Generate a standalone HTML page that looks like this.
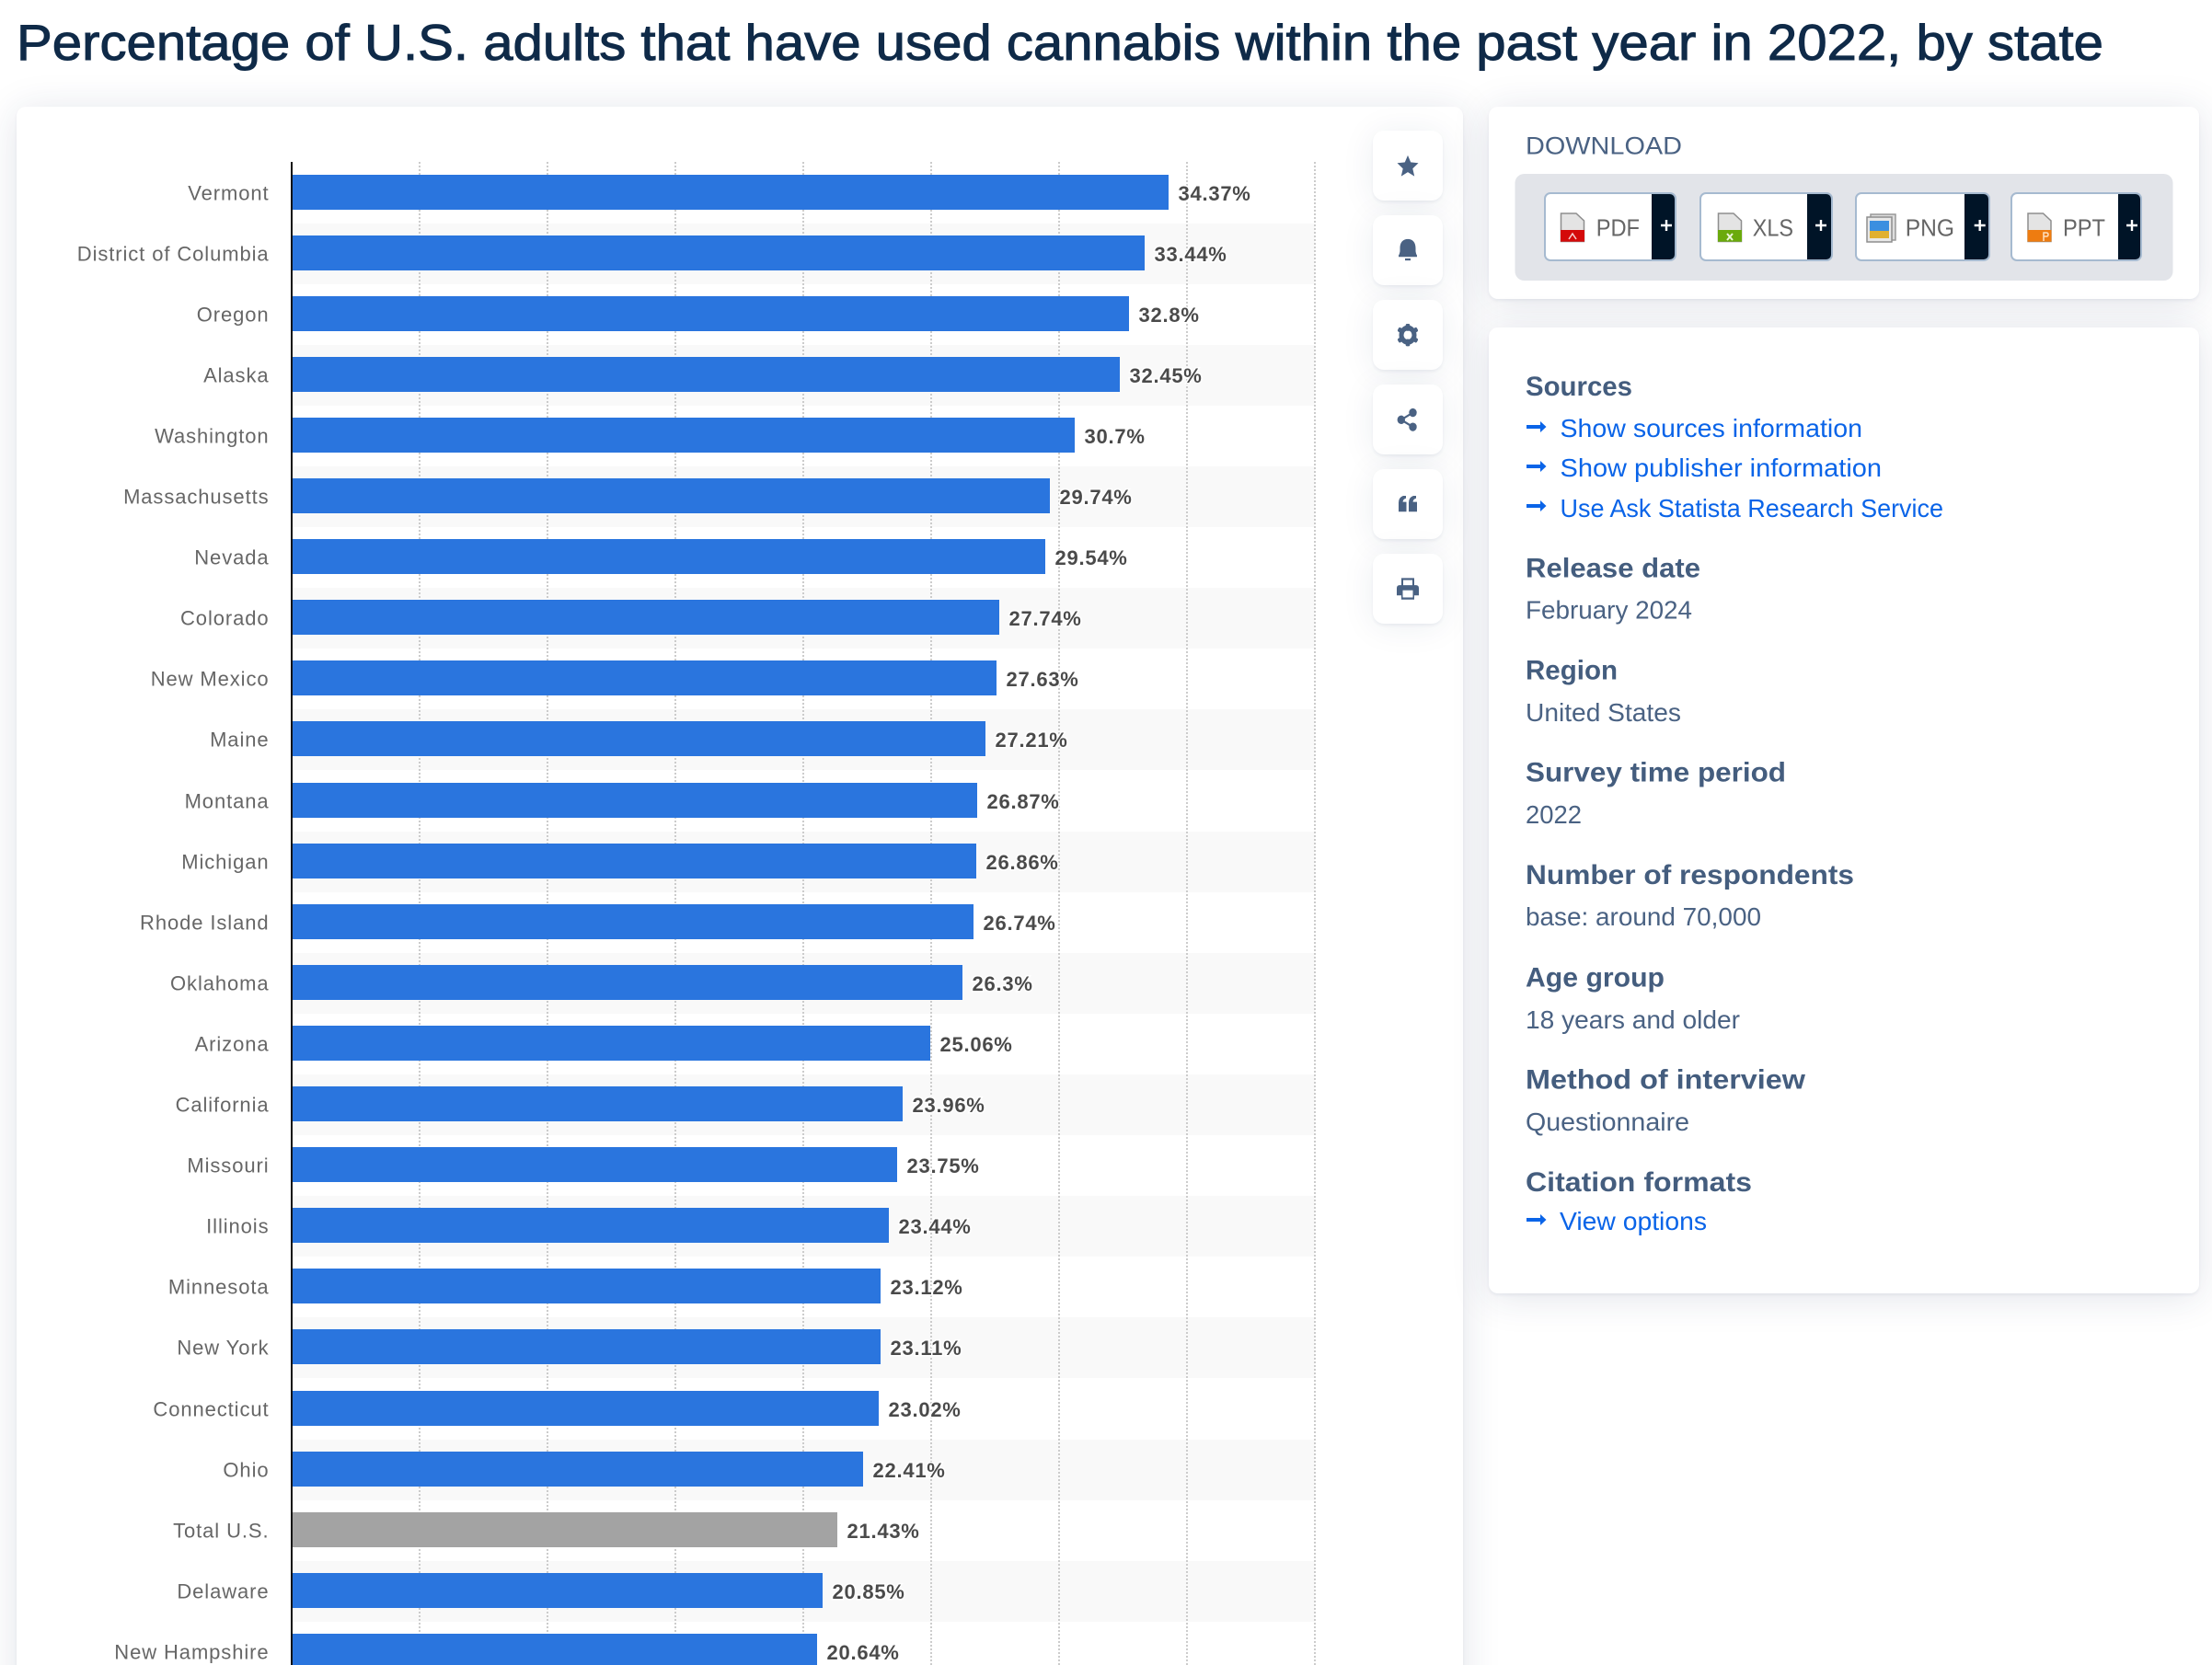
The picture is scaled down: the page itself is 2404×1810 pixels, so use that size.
<!DOCTYPE html>
<html lang="en">
<head>
<meta charset="utf-8">
<title>Percentage of U.S. adults that have used cannabis within the past year in 2022, by state</title>
<style>
html,body{margin:0;padding:0;background:#fff;width:2404px;height:1810px;overflow:hidden}
body{position:relative;font-family:"Liberation Sans",sans-serif}
.card{position:absolute;background:#fff;border-radius:10px;box-shadow:0 2px 3px rgba(20,40,80,.06),0 4px 42px rgba(30,50,90,.13)}
.tool{position:absolute;left:1492px;width:76px;height:76px;background:#fff;border-radius:12px;box-shadow:0 2px 3px rgba(20,40,80,.06),0 3px 36px rgba(30,50,90,.08)}
svg{position:absolute;left:0;top:0}
.h{font-weight:700;font-size:30px;fill:#445d7e}
.v{font-size:28px;fill:#4a6283}
.l{font-size:28px;fill:#0a64e8}
.b{font-size:26px;fill:#666}
.plus{stroke:#fff;stroke-width:2.4}
.ic{fill:#4a6283}
</style>
</head>
<body>
<div class="card" style="left:18px;top:116px;width:1572px;height:1760px"></div>
<div class="card" style="left:1618px;top:116px;width:772px;height:209px"></div>
<div class="card" style="left:1618px;top:356px;width:772px;height:1050px"></div>
<div class="tool" style="top:142px"></div>
<div class="tool" style="top:234px"></div>
<div class="tool" style="top:326px"></div>
<div class="tool" style="top:418px"></div>
<div class="tool" style="top:510px"></div>
<div class="tool" style="top:602px"></div>

<svg id="page" width="2404" height="1810" viewBox="0 0 2404 1810" xmlns="http://www.w3.org/2000/svg" font-family="'Liberation Sans',sans-serif">
  <text x="18" y="65" font-size="55" fill="#0f2a48" stroke="#0f2a48" stroke-width="1" textLength="2268" lengthAdjust="spacingAndGlyphs">Percentage of U.S. adults that have used cannabis within the past year in 2022, by state</text>

  <g id="chart"></g>

  <g transform="translate(0 -13.2) scale(1 1.11)">
    <polygon class="ic" points="1530,164 1533.2,170.8 1541.5,171.6 1535.3,177 1537.2,184.5 1530,180.5 1522.8,184.5 1524.7,177 1518.5,171.6 1526.8,170.8"/>
    <g class="ic">
      <path d="M1520 262 q1-1 1.500-4 v-3 c0-6 3.500-9 8.500-9 s8.500 3 8.500 9 v3 q.5 3 1.500 4 v1.500 h-20z"/>
      <rect x="1527" y="265" width="6" height="2"/>
    </g>
    <g>
      <circle cx="1530" cy="340" r="7" fill="none" stroke="#4a6283" stroke-width="5"/>
      <g class="ic">
        <rect x="1527.700" y="329" width="4.600" height="7" rx="1.500"/>
        <rect x="1527.700" y="344" width="4.600" height="7" rx="1.500"/>
        <rect x="1527.700" y="328" width="4.600" height="7" rx="1.500" transform="rotate(60 1530 340)"/>
        <rect x="1527.700" y="345" width="4.600" height="7" rx="1.500" transform="rotate(60 1530 340)"/>
        <rect x="1527.700" y="328" width="4.600" height="7" rx="1.500" transform="rotate(120 1530 340)"/>
        <rect x="1527.700" y="345" width="4.600" height="7" rx="1.500" transform="rotate(120 1530 340)"/>
      </g>
    </g>
    <g class="ic">
      <circle cx="1535.500" cy="416" r="4.200"/><circle cx="1535.500" cy="430" r="4.200"/><circle cx="1522.800" cy="423" r="4.200"/>
      <path d="M1535.500 416 L1522.800 423 L1535.500 430" fill="none" stroke="#4a6283" stroke-width="2"/>
    </g>
    <g class="ic">
      <path d="M1520 513 v-9 q0-5 5-6.500 h3 v2.500 q-3 .5-3.500 3.500 h4 v9.500z"/>
      <path d="M1531 513 v-9 q0-5 5-6.500 h3 v2.500 q-3 .5-3.500 3.500 h4.500 v9.500z"/>
    </g>
    <g>
      <path class="ic" d="M1523 585 v-7 h14 v7 h2 q3 0 3 3 v7 h-5 v4 h-14 v-4 h-5 v-7 q0-3 3-3z"/>
      <rect x="1525" y="580" width="10" height="5" fill="#fff"/>
      <rect x="1524.500" y="590" width="11" height="7" fill="#fff"/>
    </g>
  </g>

  <text x="1658" y="167.700" font-size="27" fill="#4a6283" textLength="170" lengthAdjust="spacingAndGlyphs">DOWNLOAD</text>
  <rect x="1646.500" y="189" width="715" height="116" rx="10" fill="#e2e4e9"/>

  <g>
    <rect x="1679" y="210" width="142" height="73" rx="6" fill="#fff" stroke="#a6bad0" stroke-width="2"/>
    <path d="M1795 211 H1815 a5 5 0 0 1 5 5 V277 a5 5 0 0 1 -5 5 H1795 Z" fill="#001427"/>
    <path d="M1696.500 232 H1713 L1721.500 240 V262.500 H1696.500 Z" fill="#e4e4e4" stroke="#8e8e8e" stroke-width="1.500"/>
    <rect x="1696" y="250" width="26" height="12.700" fill="#d40a0a"/>
    <path d="M1705 260 l4-6 l4 6" fill="none" stroke="#f6d0d0" stroke-width="1.500"/>
    <text x="1734.700" y="256.700" class="b" textLength="47.300" lengthAdjust="spacingAndGlyphs">PDF</text>
    <path class="plus" d="M1805 245 h12 M1811 239 v12"/>
  </g>
  <g>
    <rect x="1848" y="210" width="143" height="73" rx="6" fill="#fff" stroke="#a6bad0" stroke-width="2"/>
    <path d="M1964 211 H1985 a5 5 0 0 1 5 5 V277 a5 5 0 0 1 -5 5 H1964 Z" fill="#001427"/>
    <path d="M1867.500 232 H1884 L1892.500 240 V262.500 H1867.500 Z" fill="#e4e4e4" stroke="#8e8e8e" stroke-width="1.500"/>
    <rect x="1867" y="250" width="26" height="12.700" fill="#6aaa0c"/>
    <path d="M1877 254 l6 7 M1883 254 l-6 7" stroke="#eaf5d8" stroke-width="2"/>
    <text x="1904.700" y="256.700" class="b" textLength="44.300" lengthAdjust="spacingAndGlyphs">XLS</text>
    <path class="plus" d="M1973 245 h12 M1979 239 v12"/>
  </g>
  <g>
    <rect x="2017" y="210" width="145" height="73" rx="6" fill="#fff" stroke="#a6bad0" stroke-width="2"/>
    <path d="M2135 211 H2156 a5 5 0 0 1 5 5 V277 a5 5 0 0 1 -5 5 H2135 Z" fill="#001427"/>
    <rect x="2033" y="233" width="27" height="28" fill="#ddd" stroke="#999" stroke-width="1.500"/>
    <rect x="2029" y="236" width="27" height="27" fill="#e8e8e8" stroke="#8e8e8e" stroke-width="1.500"/>
    <rect x="2032" y="240" width="21" height="11" fill="#3b8fe0"/>
    <rect x="2032" y="251" width="21" height="8" fill="#e0b030"/>
    <text x="2070.700" y="256.700" class="b" textLength="53.300" lengthAdjust="spacingAndGlyphs">PNG</text>
    <path class="plus" d="M2145.700 245 h12 M2151.700 239 v12"/>
  </g>
  <g>
    <rect x="2186" y="210" width="141" height="73" rx="6" fill="#fff" stroke="#a6bad0" stroke-width="2"/>
    <path d="M2302 211 H2321 a5 5 0 0 1 5 5 V277 a5 5 0 0 1 -5 5 H2302 Z" fill="#001427"/>
    <path d="M2204 232 H2220.500 L2229 240 V262.500 H2204 Z" fill="#e4e4e4" stroke="#8e8e8e" stroke-width="1.500"/>
    <rect x="2203.500" y="250" width="26" height="12.700" fill="#ee7c10"/>
    <path d="M2221 262 v-9 h3 q2 0 2 2 t-2 2 h-3" fill="none" stroke="#fde0c0" stroke-width="1.500"/>
    <text x="2242" y="256.700" class="b" textLength="46" lengthAdjust="spacingAndGlyphs">PPT</text>
    <path class="plus" d="M2311 245 h12 M2317 239 v12"/>
  </g>

  <g>
    <text class="h" x="1658" y="430" textLength="116" lengthAdjust="spacingAndGlyphs">Sources</text>
    <g>
      <path fill="#0a64e8" d="M1659 462 h15 v-4 l6.500 6 l-6.500 6 v-4 h-15 z"/>
      <text class="l" x="1695.500" y="475" textLength="328.500" lengthAdjust="spacingAndGlyphs">Show sources information</text>
    </g>
    <g>
      <path fill="#0a64e8" d="M1659 505 h15 v-4 l6.500 6 l-6.500 6 v-4 h-15 z"/>
      <text class="l" x="1695.500" y="518" textLength="349.500" lengthAdjust="spacingAndGlyphs">Show publisher information</text>
    </g>
    <g>
      <path fill="#0a64e8" d="M1659 548 h15 v-4 l6.500 6 l-6.500 6 v-4 h-15 z"/>
      <text class="l" x="1695.500" y="562" textLength="416.500" lengthAdjust="spacingAndGlyphs">Use Ask Statista Research Service</text>
    </g>
    <text class="h" x="1658" y="627.300" textLength="190" lengthAdjust="spacingAndGlyphs">Release date</text>
    <text class="v" x="1658" y="672.700" textLength="181" lengthAdjust="spacingAndGlyphs">February 2024</text>
    <text class="h" x="1658" y="738.300" textLength="100" lengthAdjust="spacingAndGlyphs">Region</text>
    <text class="v" x="1658" y="784" textLength="169" lengthAdjust="spacingAndGlyphs">United States</text>
    <text class="h" x="1658" y="849.300" textLength="283" lengthAdjust="spacingAndGlyphs">Survey time period</text>
    <text class="v" x="1658" y="895" textLength="61" lengthAdjust="spacingAndGlyphs">2022</text>
    <text class="h" x="1658" y="961" textLength="357" lengthAdjust="spacingAndGlyphs">Number of respondents</text>
    <text class="v" x="1658" y="1006" textLength="256" lengthAdjust="spacingAndGlyphs">base: around 70,000</text>
    <text class="h" x="1658" y="1072.700" textLength="151" lengthAdjust="spacingAndGlyphs">Age group</text>
    <text class="v" x="1658" y="1118" textLength="233" lengthAdjust="spacingAndGlyphs">18 years and older</text>
    <text class="h" x="1658" y="1183.500" textLength="304" lengthAdjust="spacingAndGlyphs">Method of interview</text>
    <text class="v" x="1658" y="1229" textLength="178" lengthAdjust="spacingAndGlyphs">Questionnaire</text>
    <text class="h" x="1658" y="1295" textLength="246" lengthAdjust="spacingAndGlyphs">Citation formats</text>
    <g>
      <path fill="#0a64e8" d="M1659 1324 h15 v-4 l6.500 6 l-6.500 6 v-4 h-15 z"/>
      <text class="l" x="1695" y="1337" textLength="160" lengthAdjust="spacingAndGlyphs">View options</text>
    </g>
  </g>
</svg>

<script>
const categories = ["Vermont","District of Columbia","Oregon","Alaska","Washington","Massachusetts","Nevada","Colorado","New Mexico","Maine","Montana","Michigan","Rhode Island","Oklahoma","Arizona","California","Missouri","Illinois","Minnesota","New York","Connecticut","Ohio","Total U.S.","Delaware","New Hampshire"];
const values = [34.37,33.44,32.8,32.45,30.7,29.74,29.54,27.74,27.63,27.21,26.87,26.86,26.74,26.3,25.06,23.96,23.75,23.44,23.12,23.11,23.02,22.41,21.43,20.85,20.64];
const gridTicks = [5,10,15,20,25,30,35,40];
const highlightCategory = "Total U.S.";

const NS = "http://www.w3.org/2000/svg";
const chart = document.getElementById("chart");
const axisX = 317;
const plotTop = 176;
const plotBottom = 1810;
const plotRight = 1429;
const rowPitch = 66.1;
const barH = 38;

function xScale(v){ return Math.round(314.7 + 27.8 * v); }
function gridX(v){ return Math.round(316.5 + 27.8 * v); }
function barTop(i){ return Math.floor(190 + rowPitch * i + 0.001); }
function mk(tag, attrs){
  const n = document.createElementNS(NS, tag);
  for (const k in attrs) n.setAttribute(k, attrs[k]);
  chart.appendChild(n);
  return n;
}

categories.forEach(function(c, i){
  if (i % 2 === 1) {
    const s = mk("rect", {x: axisX, y: barTop(i) - 13, width: plotRight - axisX, height: 66, fill: "#f9f9f9"});
    
    
  }
});

gridTicks.forEach(function(t){
  const g = mk("line", {x1: gridX(t), x2: gridX(t), y1: plotTop, y2: plotBottom, stroke: "#ccc", "stroke-width": 2, "stroke-dasharray": "2 2"});
  
  
});

categories.forEach(function(c, i){
  const y = barTop(i);
  const v = values[i];
  const b = mk("rect", {x: axisX, y: y, width: xScale(v) - axisX, height: barH, fill: c === highlightCategory ? "#a3a3a3" : "#2a75de"});
  
  

  const lab = mk("text", {x: 292.5, y: y + 27.5, "text-anchor": "end", "font-size": 22, "letter-spacing": 0.9, fill: "#666"});
  lab.textContent = c;
  
  

  const val = mk("text", {x: xScale(v) + 10.5, y: y + 28, "font-size": 22, "font-weight": 700, "letter-spacing": 0.75, fill: "#4a4a4a", stroke: "#fff", "stroke-width": 3, "paint-order": "stroke"});
  val.textContent = v + "%";
  
  
});

const axis = mk("line", {x1: axisX, x2: axisX, y1: plotTop, y2: plotBottom, stroke: "#111", "stroke-width": 2});


</script>
</body>
</html>
